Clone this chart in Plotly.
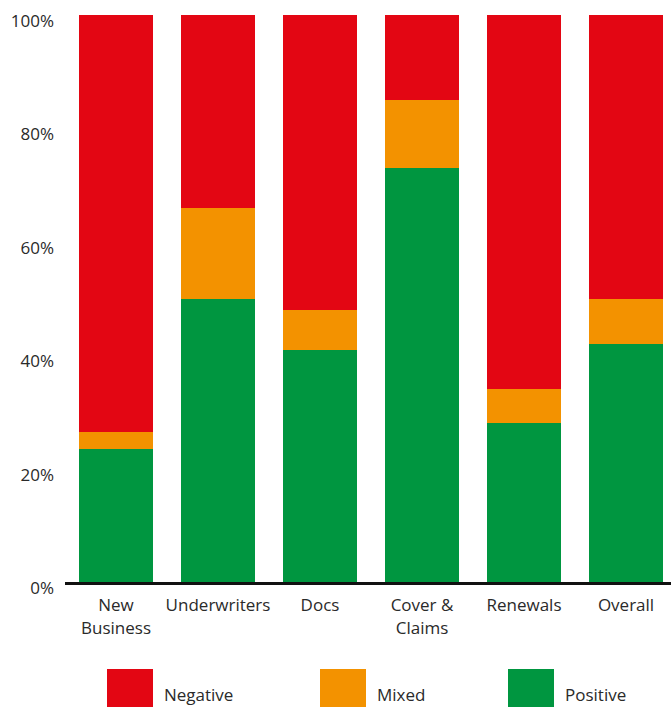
import plotly.graph_objects as go

categories = ["New<br>Business", "Underwriters", "Docs", "Cover &<br>Claims", "Renewals", "Overall"]
positive = [23.5, 50.0, 41.0, 73.0, 28.0, 42.0]
mixed = [3.0, 16.0, 7.0, 12.0, 6.0, 8.0]
negative = [73.5, 34.0, 52.0, 15.0, 66.0, 50.0]
series_names = ["Negative", "Mixed", "Positive"]
colors = {"Positive": "#009640", "Mixed": "#F39200", "Negative": "#E30613"}
y_ticks = [0, 20, 40, 60, 80, 100]
y_tick_labels = ["0%", "20%", "40%", "60%", "80%", "100%"]

W, H = 671, 707
L, R, T, B = 65, 0, 15, 125
FONT = "Open Sans"
TXT = "#2a2a2a"

fig = go.Figure()
xs = list(range(len(categories)))
for name, vals in (("Positive", positive), ("Mixed", mixed), ("Negative", negative)):
    fig.add_trace(go.Bar(x=xs, y=vals, name=name, marker=dict(color=colors[name], line=dict(width=0)),
                         showlegend=False, hoverinfo="skip"))

pw = W - L - R
ph = H - T - B

def px_x(p):
    return (p - L) / pw

def px_y(p):
    return (H - B - p) / ph

# custom legend
legend_x = [107, 320, 508]
for name, x0 in zip(series_names, legend_x):
    fig.add_shape(type="rect", xref="paper", yref="paper",
                  x0=px_x(x0), x1=px_x(x0 + 46), y0=px_y(707), y1=px_y(669),
                  fillcolor=colors[name], line=dict(width=0))
    fig.add_annotation(xref="paper", yref="paper", x=px_x(x0 + 55), y=px_y(694),
                       text=name, showarrow=False, xanchor="left", yanchor="middle",
                       font=dict(family=FONT, size=17, color=TXT))

fig.update_layout(
    width=W, height=H, barmode="stack", bargap=0.275,
    margin=dict(l=L, r=R, t=T, b=B, pad=0),
    plot_bgcolor="white", paper_bgcolor="white",
    font=dict(family=FONT, size=17, color=TXT),
    xaxis=dict(range=[-0.5, -0.5 + pw / 102.0], tickmode="array", tickvals=xs, ticktext=categories,
               showgrid=False, zeroline=False, showline=True, linecolor="#111111", linewidth=3,
               ticks="", ticklabelstandoff=6, tickfont=dict(family=FONT, size=17, color=TXT)),
    yaxis=dict(range=[0, 100], tickmode="array", tickvals=y_ticks, ticktext=y_tick_labels,
               showgrid=False, zeroline=False, showline=False, ticks="",
               ticklabelstandoff=10, ticklabelshift=6, ticklabeloverflow="allow",
               tickfont=dict(family=FONT, size=17, color=TXT)),
)

fig.write_html("out.html")
